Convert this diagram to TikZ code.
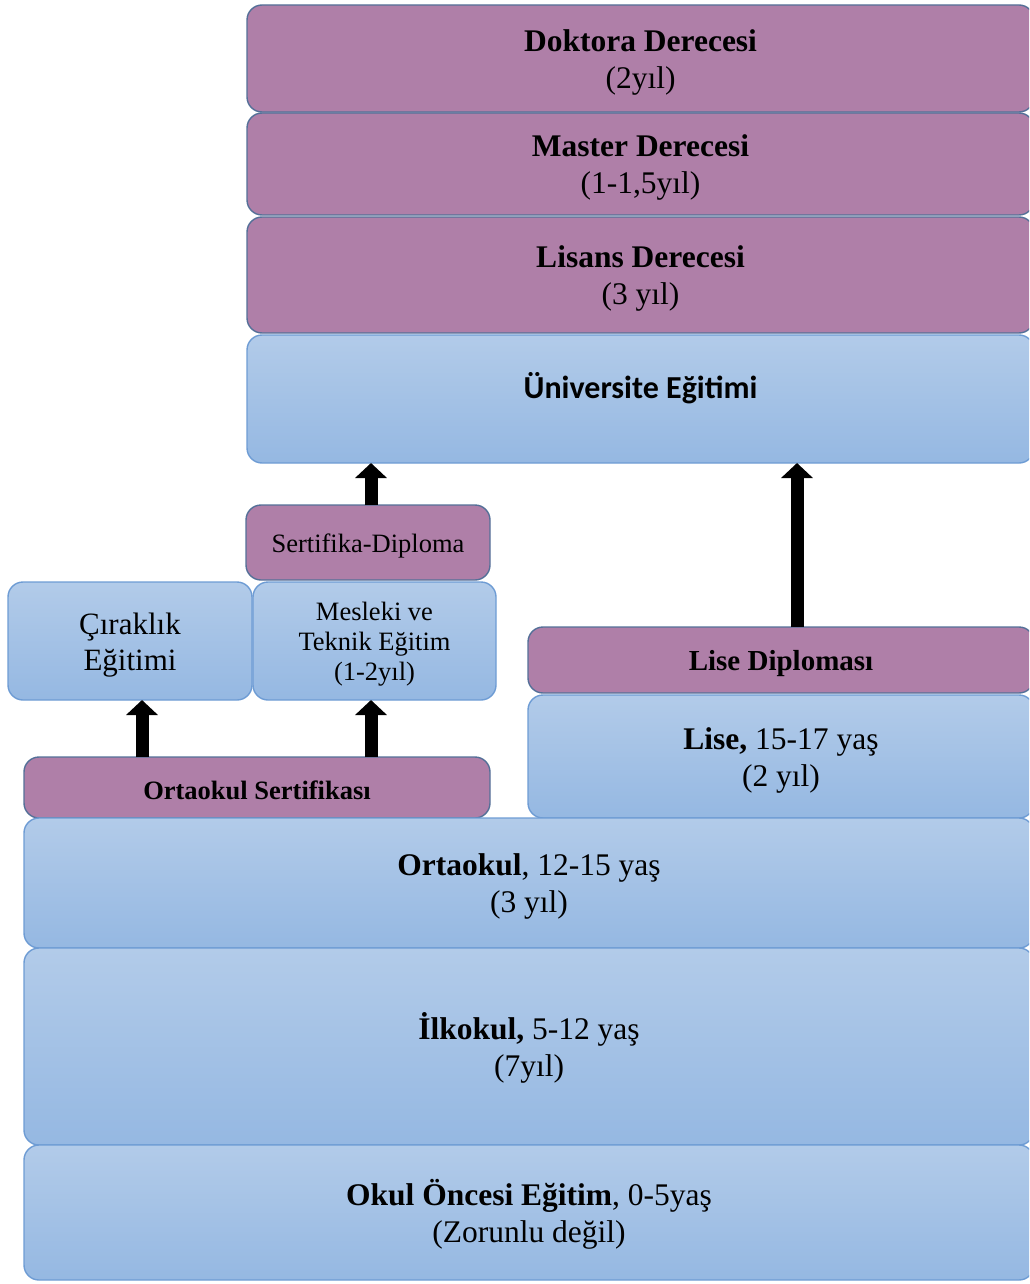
\documentclass[tikz,border=0pt]{standalone}
\usepackage{fontspec}
\setmainfont{Liberation Serif}
\newfontfamily\calib{Carlito}
\usetikzlibrary{arrows.meta}

\definecolor{degfill}{RGB}{175,127,168}
\definecolor{degline}{RGB}{84,112,152}
\definecolor{edtop}{RGB}{178,203,233}
\definecolor{edbot}{RGB}{149,184,226}
\definecolor{edline}{RGB}{110,156,212}

% a tall invisible strut on the first line sets the text a little lower
\newcommand{\firstup}{\rule{0pt}{0.94em}}

\tikzset{
  box/.style={rectangle, rounded corners=15pt, line width=1.4pt,
    inner sep=0pt, outer sep=0pt, align=center, text=black},
  degbox/.style={box, fill=degfill, draw=degline},
  edbox/.style={box, draw=edline, top color=edtop, bottom color=edbot},
  big/.style={font=\fontsize{31.5}{37}\selectfont},
  small/.style={font=\fontsize{26.5}{30}\selectfont},
  uparrow/.style={line width=13pt, draw=black,
    -{Triangle[width=31pt,length=15pt]}}
}

\begin{document}
\begin{tikzpicture}[x=1pt,y=-1pt]
\useasboundingbox (0,0) rectangle (1029,1284);
\begin{scope}
\clip (0,0) rectangle (1029,1284);

% higher education degrees
\node[degbox, big, minimum width=787pt, minimum height=107pt] (doktora) at (640.5,58.5)
  {\firstup\textbf{Doktora Derecesi}\\(2yıl)};
\node[degbox, big, minimum width=787pt, minimum height=102pt] (master) at (640.5,164)
  {\firstup\textbf{Master Derecesi}\\(1-1,5yıl)};
\node[degbox, big, minimum width=787pt, minimum height=116pt] (lisans) at (640.5,275)
  {\firstup\textbf{Lisans Derecesi}\\(3 yıl)};
\node[edbox, minimum width=787pt, minimum height=128pt] (univ) at (640.5,399) {};
\node[font=\calib\bfseries\fontsize{32}{36}\selectfont, inner sep=0pt] (univtext)
  at ([yshift=11pt]univ.center) {Üniversite Eğitimi};

% vocational branch
\node[degbox, small, minimum width=244pt, minimum height=75pt] (sertdip) at (368,542.5)
  {\firstup Sertifika-Diploma};
\node[edbox, font=\fontsize{31}{36}\selectfont, minimum width=244pt, minimum height=118pt] (cirak) at (130,641)
  {\firstup Çıraklık\\Eğitimi};
\node[edbox, small, minimum width=243pt, minimum height=118pt] (mesleki) at (374.5,641)
  {\firstup Mesleki ve\\Teknik Eğitim\\(1-2yıl)};
\node[degbox, font=\bfseries\fontsize{26.5}{30}\selectfont, minimum width=466pt, minimum height=61pt] (ortsert) at (257,787.5)
  {\firstup Ortaokul Sertifikası};

% high school
\node[degbox, font=\bfseries\fontsize{29}{34}\selectfont, minimum width=506pt, minimum height=66pt] (lisedip) at (781,660)
  {\firstup Lise Diploması};
\node[edbox, big, minimum width=506pt, minimum height=123pt] (lise) at (781,756.5)
  {\firstup\textbf{Lise,} 15-17 yaş\\(2 yıl)};

% compulsory and pre-school education
\node[edbox, big, minimum width=1010pt, minimum height=130pt] (ortaokul) at (529,883)
  {\firstup\textbf{Ortaokul}, 12-15 yaş\\(3 yıl)};
\node[edbox, big, minimum width=1010pt, minimum height=197pt] (ilkokul) at (529,1046.5)
  {\firstup\textbf{İlkokul,} 5-12 yaş\\(7yıl)};
\node[edbox, big, minimum width=1010pt, minimum height=135pt] (okul) at (529,1212.5)
  {\firstup\textbf{Okul Öncesi Eğitim}, 0-5yaş\\(Zorunlu değil)};

% progression arrows
\coordinate (xa) at (142,0);
\coordinate (xb) at (371,0);
\coordinate (xc) at (797,0);
\draw[uparrow] (xa |- ortsert.north) -- (xa |- cirak.south);
\draw[uparrow] (xb |- ortsert.north) -- (xb |- mesleki.south);
\draw[uparrow] (xb |- sertdip.north) -- (xb |- univ.south);
\draw[uparrow] (xc |- lisedip.north) -- (xc |- univ.south);
\end{scope}
\end{tikzpicture}
\end{document}
